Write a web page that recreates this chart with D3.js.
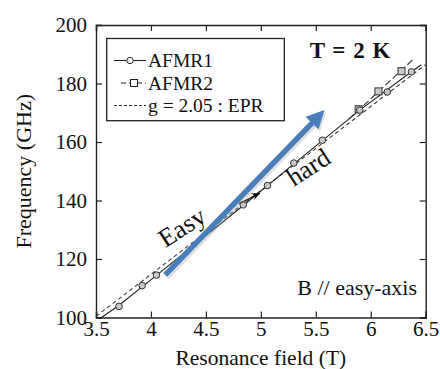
<!DOCTYPE html>
<html>
<head>
<meta charset="utf-8">
<script src="https://cdn.jsdelivr.net/npm/d3@7"></script>
<style>
  body { margin: 0; background: #fff; }
  svg text { font-family: "Liberation Serif", "Times New Roman", serif; fill: #111; }
</style>
</head>
<body>
<div id="chart"></div>
<script>
// AFMR1 (circles) – resonance field (T) vs frequency (GHz)
const afmr1Field = [3.71, 3.92, 4.05, 4.84, 5.06, 5.30, 5.56, 5.90, 6.15, 6.37];
const afmr1Freq  = [103.8, 110.9, 114.5, 138.5, 145.1, 152.8, 160.6, 170.9, 177.1, 184.0];
// solid guide line drawn through AFMR1
const afmr1LineField = [3.55, 3.71, 4.05, 4.84, 5.30, 5.90, 6.37, 6.46];
const afmr1LineFreq  = [100.0, 104.2, 114.4, 138.3, 152.5, 170.9, 184.0, 186.4];

// AFMR2 (squares)
const afmr2Field = [5.89, 6.07, 6.28];
const afmr2Freq  = [171.2, 177.3, 184.2];
const afmr2LineField = [5.80, 6.39];
const afmr2LineFreq  = [167.8, 188.4];

// EPR, g = 2.05
const eprField = [3.5, 6.5];
const eprFreq  = [100.4, 186.5];

const xTicks = [3.5, 4, 4.5, 5, 5.5, 6, 6.5];
const yTicks = [100, 120, 140, 160, 180, 200];

const legendLabels = ['AFMR1', 'AFMR2', 'g = 2.05 : EPR'];

// annotations (data coords)
const blueArrow = [[4.13, 114.6], [5.58, 170.9]];
const smallArrow = [[4.80, 138.9], [4.99, 142.5]];

const W = 440, H = 369;
const m = { left: 96, top: 25, right: 14.3, bottom: 51.5 };
const serif = '"Liberation Serif", "Times New Roman", serif';

const svg = d3.select('#chart').append('svg').attr('width', W).attr('height', H)
  .attr('font-family', serif);

const x = d3.scaleLinear().domain([3.5, 6.5]).range([m.left, W - m.right]);
const y = d3.scaleLinear().domain([100, 200]).range([H - m.bottom, m.top]);

const defs = svg.append('defs');
defs.append('clipPath').attr('id', 'clip').append('rect')
  .attr('x', m.left).attr('y', m.top)
  .attr('width', x.range()[1] - m.left).attr('height', y.range()[0] - m.top);

// axes: ticks inside on every side
const fmt = d => d3.format('')(d);
const tickLen = 6;
svg.append('g').attr('transform', `translate(0,${y(100)})`)
  .call(d3.axisBottom(x).tickValues(xTicks).tickSize(-tickLen).tickPadding(4).tickFormat(fmt));
svg.append('g').attr('transform', `translate(0,${y(200)})`)
  .call(d3.axisTop(x).tickValues(xTicks).tickSize(-tickLen).tickFormat(''));
svg.append('g').attr('transform', `translate(${x(3.5)},0)`)
  .call(d3.axisLeft(y).tickValues(yTicks).tickSize(-tickLen).tickPadding(tickLen + 3).tickFormat(fmt));
svg.append('g').attr('transform', `translate(${x(6.5)},0)`)
  .call(d3.axisRight(y).tickValues(yTicks).tickSize(-tickLen).tickFormat(''));

svg.selectAll('.domain').attr('stroke', '#222').attr('stroke-width', 1.4);
svg.selectAll('.tick line').attr('stroke', '#222').attr('stroke-width', 1.2);
svg.selectAll('g').attr('font-family', serif);
svg.selectAll('.tick text').attr('font-size', 21).attr('fill', '#111');

// axis titles
svg.append('text').attr('x', (x(3.5) + x(6.5)) / 2).attr('y', 365)
  .attr('text-anchor', 'middle').attr('font-size', 21.5).text('Resonance field (T)');
svg.append('text').attr('transform', `translate(31,${(y(100) + y(200)) / 2}) rotate(-90)`)
  .attr('text-anchor', 'middle').attr('font-size', 22).text('Frequency (GHz)');

const plot = svg.append('g').attr('clip-path', 'url(#clip)');
const line = d3.line().x(d => x(d[0])).y(d => y(d[1]));

// EPR line
plot.append('path').attr('d', line(d3.zip(eprField, eprFreq)))
  .attr('fill', 'none').attr('stroke', '#333').attr('stroke-width', 1.1).attr('stroke-dasharray', '4,3');
// AFMR2 line
plot.append('path').attr('d', line(d3.zip(afmr2LineField, afmr2LineFreq)))
  .attr('fill', 'none').attr('stroke', '#333').attr('stroke-width', 1.1).attr('stroke-dasharray', '7,3');
// AFMR1 line
plot.append('path').attr('d', line(d3.zip(afmr1LineField, afmr1LineFreq)))
  .attr('fill', 'none').attr('stroke', '#222').attr('stroke-width', 1.1);

// markers
plot.selectAll('rect.afmr2').data(d3.zip(afmr2Field, afmr2Freq)).join('rect')
  .attr('class', 'afmr2')
  .attr('x', d => x(d[0]) - 3.5).attr('y', d => y(d[1]) - 3.5)
  .attr('width', 7).attr('height', 7)
  .attr('fill', '#c8c8c8').attr('stroke', '#333').attr('stroke-width', 1);
plot.selectAll('circle.afmr1').data(d3.zip(afmr1Field, afmr1Freq)).join('circle')
  .attr('class', 'afmr1')
  .attr('cx', d => x(d[0])).attr('cy', d => y(d[1])).attr('r', 3.3)
  .attr('fill', '#c8c8c8').attr('stroke', '#333').attr('stroke-width', 1);

// small black arrow
defs.append('marker').attr('id', 'blk').attr('viewBox', '0 0 10 10')
  .attr('refX', 9).attr('refY', 5).attr('markerWidth', 9).attr('markerHeight', 9)
  .attr('markerUnits', 'userSpaceOnUse').attr('orient', 'auto')
  .append('path').attr('d', 'M0,1 L10,5 L0,9 L3,5 Z').attr('fill', '#111');
svg.append('path').attr('d', line(smallArrow))
  .attr('stroke', '#111').attr('stroke-width', 1.2).attr('marker-end', 'url(#blk)');

// blue arrow with faint shadow
const [p0, p1] = blueArrow.map(d => [x(d[0]), y(d[1])]);
const ang = Math.atan2(p1[1] - p0[1], p1[0] - p0[0]);
const headLen = 18, headW = 9;
const bx = p1[0] - headLen * Math.cos(ang), by = p1[1] - headLen * Math.sin(ang);
const nx = -Math.sin(ang), ny = Math.cos(ang);
function drawArrow(g, dx, dy, col, op) {
  g.append('line').attr('x1', p0[0] + dx).attr('y1', p0[1] + dy)
    .attr('x2', bx + 2 * Math.cos(ang) + dx).attr('y2', by + 2 * Math.sin(ang) + dy)
    .attr('stroke', col).attr('stroke-width', 5.5).attr('opacity', op);
  g.append('path').attr('d', `M${p1[0] + dx},${p1[1] + dy} L${bx + nx * headW + dx},${by + ny * headW + dy} L${bx - nx * headW + dx},${by - ny * headW + dy} Z`)
    .attr('fill', col).attr('opacity', op);
}
drawArrow(svg.append('g'), 1.5, 2.5, '#9a9a9a', 0.3);
drawArrow(svg.append('g'), 0, 0, '#4a7ebb', 1);

// Easy / hard labels
svg.append('text').attr('transform', `translate(${x(4.28)},${y(131)}) rotate(-33)`)
  .attr('text-anchor', 'middle').attr('dy', '0.35em').attr('font-size', 26).text('Easy');
svg.append('text').attr('transform', `translate(${x(5.43)},${y(151.5)}) rotate(-33)`)
  .attr('text-anchor', 'middle').attr('dy', '0.35em').attr('font-size', 26).text('hard');

// T = 2 K and B // easy-axis
svg.append('text').attr('x', 350).attr('y', 58).attr('text-anchor', 'middle')
  .attr('font-size', 23).attr('font-weight', 'bold').attr('word-spacing', 2).text('T = 2 K');
svg.append('text').attr('x', 417).attr('y', 295).attr('text-anchor', 'end')
  .attr('font-size', 22).text('B // easy-axis');

// legend
const lg = svg.append('g');
lg.append('rect').attr('x', 106.7).attr('y', 38.5).attr('width', 177.6).attr('height', 82.2)
  .attr('fill', '#fff').attr('stroke', '#222').attr('stroke-width', 1.3);
const rows = [60.5, 83, 105.5];
const styles = [
  { dash: null, mark: 'circle', x1: 114, x2: 146 },
  { dash: '5,3', mark: 'square', x1: 121, x2: 146 },
  { dash: '3,2', mark: null, x1: 114, x2: 146 }
];
legendLabels.forEach((lab, i) => {
  const s = styles[i], yy = rows[i];
  lg.append('line').attr('x1', s.x1).attr('x2', s.x2).attr('y1', yy).attr('y2', yy)
    .attr('stroke', '#222').attr('stroke-width', 1.1).attr('stroke-dasharray', s.dash);
  if (s.mark === 'circle') lg.append('circle').attr('cx', 130).attr('cy', yy).attr('r', 3.2)
    .attr('fill', '#fff').attr('stroke', '#222');
  if (s.mark === 'square') lg.append('rect').attr('x', 130.5).attr('y', yy - 3.5).attr('width', 7).attr('height', 7)
    .attr('fill', '#fff').attr('stroke', '#222');
  lg.append('text').attr('x', 148).attr('y', yy).attr('dy', '0.35em').attr('font-size', 19.5)
    .attr('textLength', null).text(lab);
});
</script>
</body>
</html>
